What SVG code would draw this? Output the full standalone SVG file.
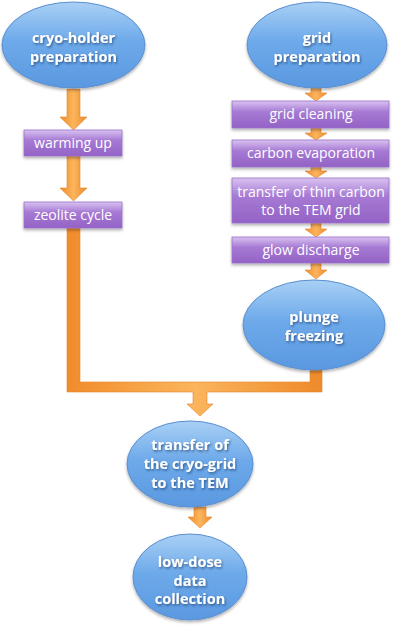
<svg xmlns="http://www.w3.org/2000/svg" width="400" height="626" viewBox="0 0 400 626">
<defs>
<linearGradient id="gBlue" x1="0" y1="0" x2="0" y2="1">
<stop offset="0" stop-color="#a9d0f5"/>
<stop offset="0.45" stop-color="#6eaaea"/>
<stop offset="1" stop-color="#5a98e0"/>
</linearGradient>
<linearGradient id="gPurple" x1="0" y1="0" x2="0" y2="1">
<stop offset="0" stop-color="#d9c2f0"/>
<stop offset="0.4" stop-color="#a67ad4"/>
<stop offset="1" stop-color="#9462c6"/>
</linearGradient>
<linearGradient id="gOrange" x1="0" y1="0" x2="1" y2="0">
<stop offset="0" stop-color="#f08c2c"/>
<stop offset="0.5" stop-color="#fbb55c"/>
<stop offset="1" stop-color="#ee8a2a"/>
</linearGradient>
<filter id="sh" x="-10%" y="-10%" width="120%" height="130%">
<feDropShadow dx="0" dy="2" stdDeviation="1.5" flood-color="#000" flood-opacity="0.3"/>
</filter>
<filter id="tsh" x="-10%" y="-20%" width="120%" height="150%">
<feDropShadow dx="1" dy="1.5" stdDeviation="0.8" flood-color="#1d3d6a" flood-opacity="0.7"/>
</filter>
</defs>
<style>
.ell{fill:url(#gBlue);stroke:#5b8fd0;stroke-width:1;filter:url(#sh)}
.box{fill:url(#gPurple);stroke:#9a72c8;stroke-width:0.8;filter:url(#sh)}
.arr{fill:url(#gOrange);stroke:#e5832a;stroke-width:0.6}
.et{font-family:"Open Sans","Liberation Sans",sans-serif;font-weight:bold;font-size:14.5px;fill:#fff;text-anchor:middle;filter:url(#tsh)}
.bt{font-family:"Open Sans","Liberation Sans",sans-serif;font-size:14px;fill:#fff;text-anchor:middle}
</style>

<g id="connectors">
<path class="arr" d="M67,89 H80 V117 H87 L73.5,130 L60,117 H67 Z"/>
<path class="arr" d="M67,156 H80 V188 H87 L73.5,201 L60,188 H67 Z"/>
<path class="arr" d="M310,369 H322 V392 H207 V404 H213 L200,416 L187,404 H193 V392 H67 V228 H80 V382 H310 Z"/>
<path class="arr" d="M311,88 H321 V93 H327 L316,101 L305,93 H311 Z"/>
<path class="arr" d="M311,128 H321 V133 H327 L316,140 L305,133 H311 Z"/>
<path class="arr" d="M311,167 H321 V171 H327 L316,178 L305,171 H311 Z"/>
<path class="arr" d="M311,223 H321 V229 H327 L316,237 L305,229 H311 Z"/>
<path class="arr" d="M311,263 H321 V270 H327 L316,279 L305,270 H311 Z"/>
<path class="arr" d="M194,507 H206 V517 H212 L200,528 L188,517 H194 Z"/>
</g>

<g id="cryo-holder-preparation">
<ellipse class="ell" cx="73.5" cy="45" rx="71.5" ry="43"/>
<text class="et" x="73.5" y="43">cryo-holder</text>
<text class="et" x="73.5" y="62">preparation</text>
</g>
<g id="warming-up">
<rect class="box" x="24" y="130" width="98" height="26"/>
<text class="bt" x="73" y="148">warming up</text>
</g>
<g id="zeolite-cycle">
<rect class="box" x="24" y="202" width="98" height="26"/>
<text class="bt" x="73" y="220">zeolite cycle</text>
</g>

<g id="grid-preparation">
<ellipse class="ell" cx="317" cy="45" rx="70" ry="43"/>
<text class="et" x="317" y="43">grid</text>
<text class="et" x="317" y="62">preparation</text>
</g>
<g id="grid-cleaning">
<rect class="box" x="232" y="101" width="157" height="27"/>
<text class="bt" x="311" y="119">grid cleaning</text>
</g>
<g id="carbon-evaporation">
<rect class="box" x="232" y="140" width="157" height="27"/>
<text class="bt" x="311" y="158">carbon evaporation</text>
</g>
<g id="transfer-thin-carbon">
<rect class="box" x="232" y="178" width="157" height="45"/>
<text class="bt" x="311" y="197">transfer of thin carbon</text>
<text class="bt" x="311" y="215">to the TEM grid</text>
</g>
<g id="glow-discharge">
<rect class="box" x="232" y="237" width="157" height="26"/>
<text class="bt" x="311" y="255">glow discharge</text>
</g>
<g id="plunge-freezing">
<ellipse class="ell" cx="314" cy="325" rx="71" ry="45"/>
<text class="et" x="314" y="322">plunge</text>
<text class="et" x="314" y="341">freezing</text>
</g>

<g id="transfer-cryo-grid">
<ellipse class="ell" cx="190" cy="464" rx="63" ry="43"/>
<text class="et" x="190" y="450">transfer of</text>
<text class="et" x="190" y="469">the cryo-grid</text>
<text class="et" x="190" y="488">to the TEM</text>
</g>
<g id="low-dose-data-collection">
<ellipse class="ell" cx="190" cy="577" rx="57" ry="43"/>
<text class="et" x="190" y="567">low-dose</text>
<text class="et" x="190" y="585.5">data</text>
<text class="et" x="190" y="604">collection</text>
</g>
</svg>
